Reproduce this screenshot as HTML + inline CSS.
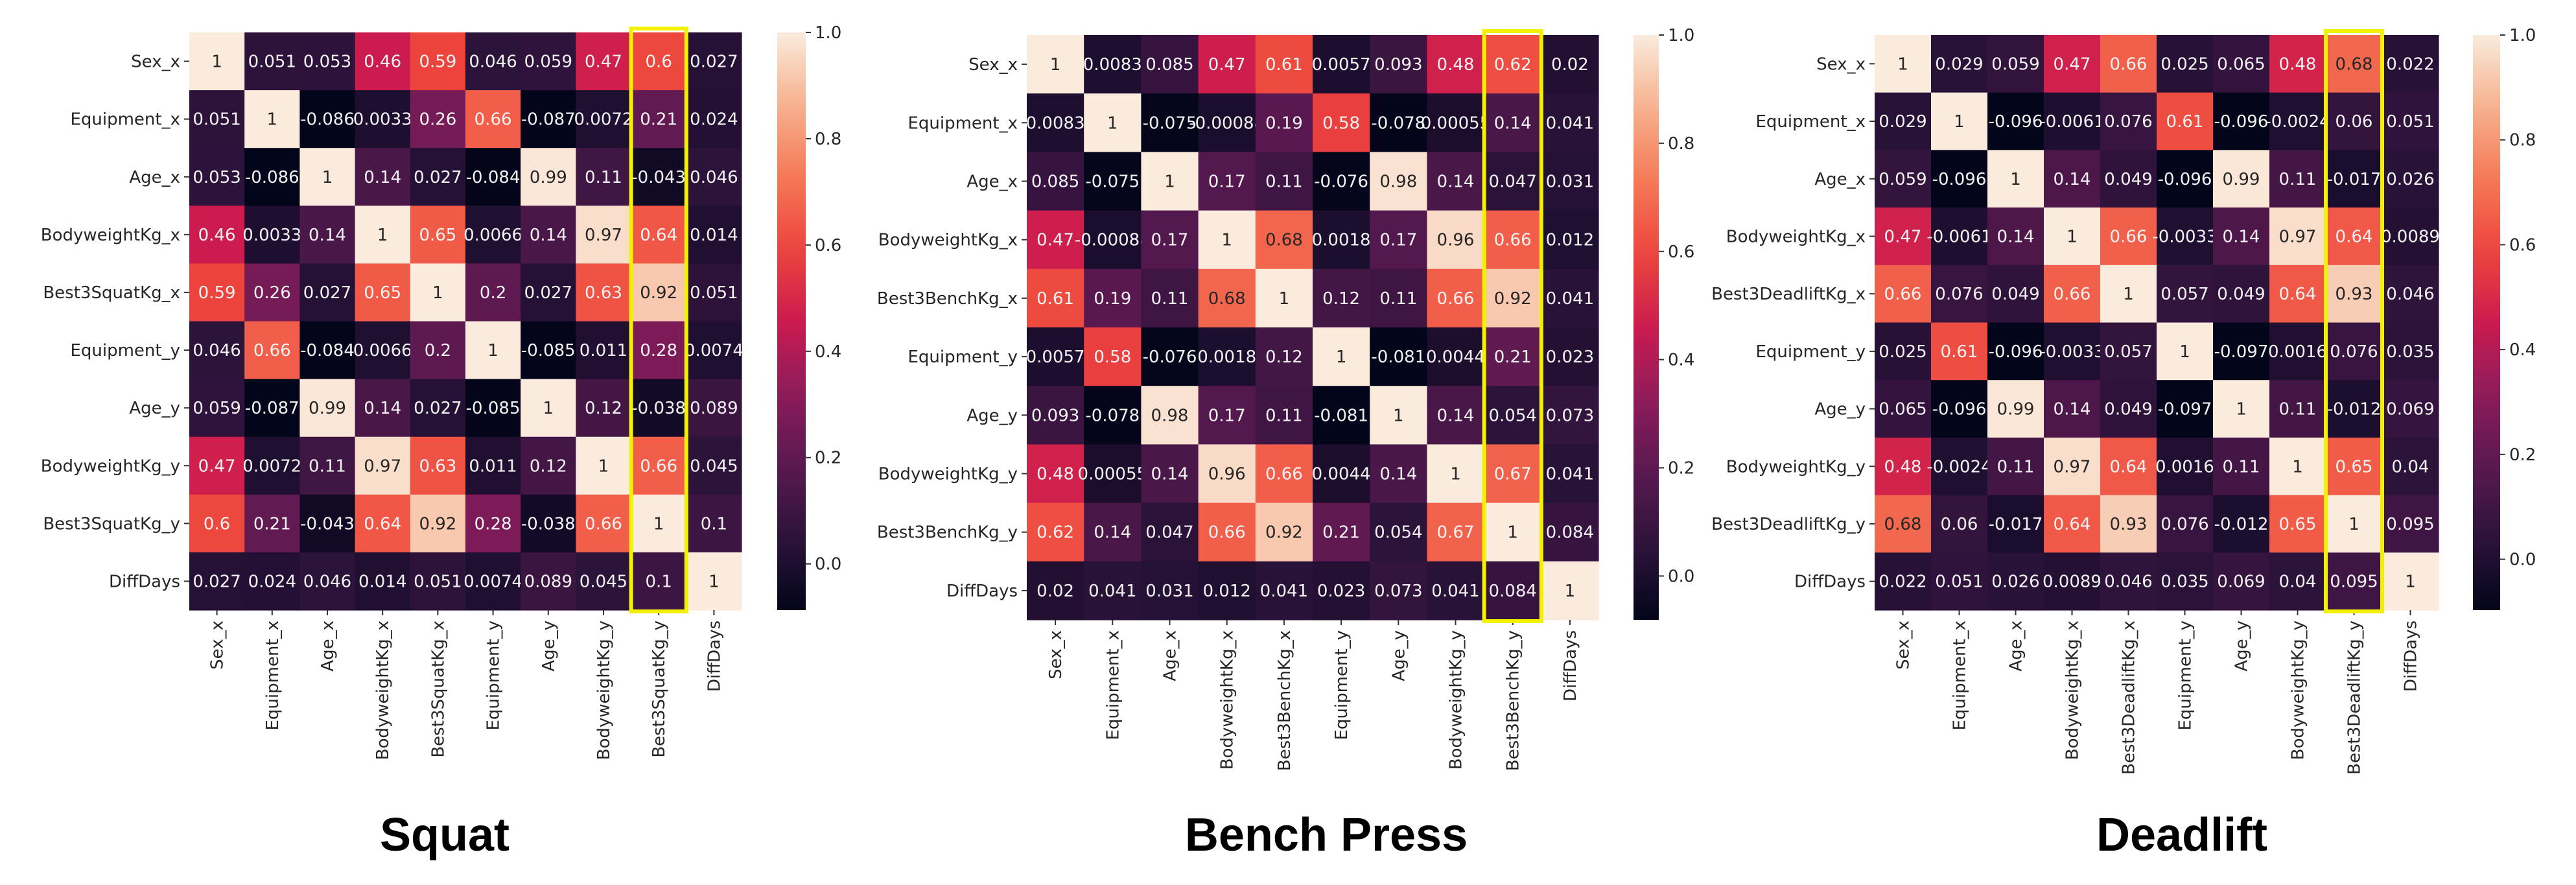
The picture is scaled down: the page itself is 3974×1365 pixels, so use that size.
<!DOCTYPE html>
<html><head><meta charset="utf-8">
<style>
html,body{margin:0;padding:0;background:#fff;}
svg{display:block;font-family:"DejaVu Sans","Liberation Sans",sans-serif;}
</style></head>
<body>
<svg id="fig" width="3974" height="1365" viewBox="0 0 3974 1365" xmlns="http://www.w3.org/2000/svg">
<defs id="defs"></defs>
</svg>
<script>
const squatLabels = ["Sex_x","Equipment_x","Age_x","BodyweightKg_x","Best3SquatKg_x","Equipment_y","Age_y","BodyweightKg_y","Best3SquatKg_y","DiffDays"];
const benchLabels = ["Sex_x","Equipment_x","Age_x","BodyweightKg_x","Best3BenchKg_x","Equipment_y","Age_y","BodyweightKg_y","Best3BenchKg_y","DiffDays"];
const deadLabels = ["Sex_x","Equipment_x","Age_x","BodyweightKg_x","Best3DeadliftKg_x","Equipment_y","Age_y","BodyweightKg_y","Best3DeadliftKg_y","DiffDays"];
const squatValues = [
[1,0.051,0.053,0.46,0.59,0.046,0.059,0.47,0.6,0.027],
[0.051,1,-0.086,0.0033,0.26,0.66,-0.087,0.0072,0.21,0.024],
[0.053,-0.086,1,0.14,0.027,-0.084,0.99,0.11,-0.043,0.046],
[0.46,0.0033,0.14,1,0.65,0.0066,0.14,0.97,0.64,0.014],
[0.59,0.26,0.027,0.65,1,0.2,0.027,0.63,0.92,0.051],
[0.046,0.66,-0.084,0.0066,0.2,1,-0.085,0.011,0.28,0.0074],
[0.059,-0.087,0.99,0.14,0.027,-0.085,1,0.12,-0.038,0.089],
[0.47,0.0072,0.11,0.97,0.63,0.011,0.12,1,0.66,0.045],
[0.6,0.21,-0.043,0.64,0.92,0.28,-0.038,0.66,1,0.1],
[0.027,0.024,0.046,0.014,0.051,0.0074,0.089,0.045,0.1,1]];
const benchValues = [
[1,0.0083,0.085,0.47,0.61,0.0057,0.093,0.48,0.62,0.02],
[0.0083,1,-0.075,-0.00088,0.19,0.58,-0.078,0.00055,0.14,0.041],
[0.085,-0.075,1,0.17,0.11,-0.076,0.98,0.14,0.047,0.031],
[0.47,-0.00088,0.17,1,0.68,0.0018,0.17,0.96,0.66,0.012],
[0.61,0.19,0.11,0.68,1,0.12,0.11,0.66,0.92,0.041],
[0.0057,0.58,-0.076,0.0018,0.12,1,-0.081,0.0044,0.21,0.023],
[0.093,-0.078,0.98,0.17,0.11,-0.081,1,0.14,0.054,0.073],
[0.48,0.00055,0.14,0.96,0.66,0.0044,0.14,1,0.67,0.041],
[0.62,0.14,0.047,0.66,0.92,0.21,0.054,0.67,1,0.084],
[0.02,0.041,0.031,0.012,0.041,0.023,0.073,0.041,0.084,1]];
const deadValues = [
[1,0.029,0.059,0.47,0.66,0.025,0.065,0.48,0.68,0.022],
[0.029,1,-0.096,-0.0061,0.076,0.61,-0.096,-0.0024,0.06,0.051],
[0.059,-0.096,1,0.14,0.049,-0.096,0.99,0.11,-0.017,0.026],
[0.47,-0.0061,0.14,1,0.66,-0.0033,0.14,0.97,0.64,0.0089],
[0.66,0.076,0.049,0.66,1,0.057,0.049,0.64,0.93,0.046],
[0.025,0.61,-0.096,-0.0033,0.057,1,-0.097,0.0016,0.076,0.035],
[0.065,-0.096,0.99,0.14,0.049,-0.097,1,0.11,-0.012,0.069],
[0.48,-0.0024,0.11,0.97,0.64,0.0016,0.11,1,0.65,0.04],
[0.68,0.06,-0.017,0.64,0.93,0.076,-0.012,0.65,1,0.095],
[0.022,0.051,0.026,0.0089,0.046,0.035,0.069,0.04,0.095,1]];
const colorbarTicks = [0.0,0.2,0.4,0.6,0.8,1.0];
const titles = ["Squat","Bench Press","Deadlift"];
const highlightColumn = 8;

const NS = "http://www.w3.org/2000/svg";
const svg = document.getElementById("fig");
const defs = document.getElementById("defs");
const rocket = [[0,[3,5,26]],[0.125,[44,19,58]],[0.25,[89,25,80]],[0.375,[140,28,91]],[0.5,[203,27,79]],[0.625,[237,69,61]],[0.75,[245,121,87]],[0.875,[246,177,142]],[1,[250,235,221]]];
function cmap(t){
  t=Math.max(0,Math.min(1,t));
  for(let i=1;i<rocket.length;i++){
    if(t<=rocket[i][0]){
      const a=rocket[i-1],b=rocket[i],f=(t-a[0])/(b[0]-a[0]);
      const c=a[1].map((v,k)=>Math.round(v+(b[1][k]-v)*f));
      return [c,"rgb("+c.join(",")+")"];
    }
  }
  return [rocket[rocket.length-1][1],"rgb(250,235,221)"];
}
function el(tag,attrs,parent){
  const e=document.createElementNS(NS,tag);
  for(const k in attrs) e.setAttribute(k,attrs[k]);
  (parent||svg).appendChild(e);
  return e;
}
function fmt(v){return String(Number(v.toPrecision(2)));}

const panels = [
 {labels:squatLabels,values:squatValues,L:292,T:50,R:1144,B:941,cbL:1199,cbR:1243,titleX:686,name:"squat"},
 {labels:benchLabels,values:benchValues,L:1584,T:54,R:2466,B:956,cbL:2520,cbR:2559,titleX:2046,name:"bench-press"},
 {labels:deadLabels,values:deadValues,L:2892,T:54,R:3762,B:941,cbL:3815,cbR:3857,titleX:3366,name:"deadlift"}
];

panels.forEach((p,pi)=>{
  const g=el("g",{});
  
  
  const n=p.labels.length;
  let vmin=Infinity; p.values.forEach(r=>r.forEach(v=>{if(v<vmin)vmin=v;}));
  const vmax=1;
  const cw=(p.R-p.L)/n, ch=(p.B-p.T)/n;
  const xs=i=>p.L+i*cw, ys=j=>p.T+j*ch;
  const norm=v=>(v-vmin)/(vmax-vmin);
  // cells
  p.values.forEach((row,j)=>row.forEach((v,i)=>{
    const [c,css]=cmap(norm(v));
    const r=el("rect",{x:xs(i),y:ys(j),width:cw+0.6,height:ch+0.6,fill:css},g);
    
    
    const lum=(0.299*c[0]+0.587*c[1]+0.114*c[2])/255;
    const t=el("text",{x:xs(i)+cw/2,y:ys(j)+ch/2+9,"text-anchor":"middle","font-size":26,fill:lum>0.55?"#262626":"#f2f2f2"},g);
    t.textContent=fmt(v);
    
    
  }));
  // y ticks/labels
  p.labels.forEach((lab,j)=>{
    const y=ys(j)+ch/2;
    el("line",{x1:p.L-8,x2:p.L,y1:y,y2:y,stroke:"#333","stroke-width":2},g);
    const t=el("text",{x:p.L-14,y:y+9,"text-anchor":"end","font-size":26,fill:"#262626"},g);
    t.textContent=lab;
    
    
  });
  // x ticks/labels
  p.labels.forEach((lab,i)=>{
    const x=xs(i)+cw/2;
    el("line",{x1:x,x2:x,y1:p.B,y2:p.B+8,stroke:"#333","stroke-width":2},g);
    const t=el("text",{x:0,y:0,"text-anchor":"end","font-size":26,fill:"#262626",transform:`translate(${x+9},${p.B+16}) rotate(-90)`},g);
    t.textContent=lab;
    
    
  });
  // highlight box
  const hb=el("rect",{x:xs(highlightColumn),y:p.T-6,width:cw,height:(p.B-p.T)+8,fill:"none",stroke:"#f2f200","stroke-width":6},g);
  
  
  // colorbar gradient
  const grad=el("linearGradient",{id:"grad"+pi,x1:0,y1:1,x2:0,y2:0},defs);
  for(let k=0;k<=20;k++){
    const t=k/20; el("stop",{offset:t,"stop-color":cmap(t)[1]},grad);
  }
  const cb=el("rect",{x:p.cbL,y:p.T,width:p.cbR-p.cbL,height:p.B-p.T,fill:`url(#grad${pi})`},g);
  
  
  const cy=v=>p.B-(v-vmin)/(vmax-vmin)*(p.B-p.T);
  colorbarTicks.forEach(v=>{
    const y=cy(v);
    el("line",{x1:p.cbR,x2:p.cbR+8,y1:y,y2:y,stroke:"#333","stroke-width":2},g);
    const t=el("text",{x:p.cbR+14,y:y+9,"font-size":26,fill:"#262626"},g);
    t.textContent=v.toFixed(1);
    
    
  });
  const tt=el("text",{x:p.titleX,y:1312,"text-anchor":"middle","font-size":72,"font-weight":"bold","font-family":"Liberation Sans, sans-serif",fill:"#000"},g);
  tt.textContent=titles[pi];
  
  
});
</script>
</body></html>
